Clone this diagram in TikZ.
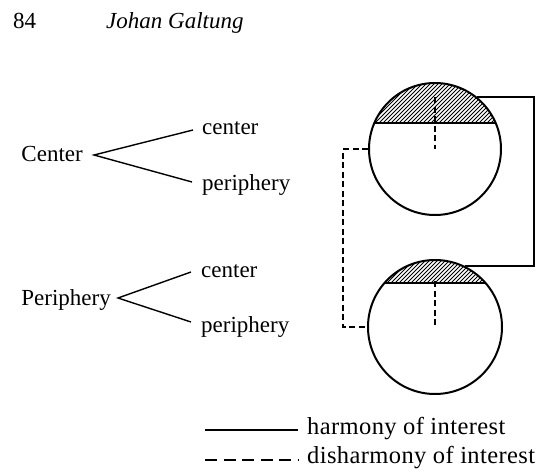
\documentclass[tikz,border=0pt]{standalone}
\usepackage{fontspec}
\setmainfont{Liberation Serif}
\begin{document}
\begin{tikzpicture}[x=1pt,y=-1pt,
  txt/.style={inner sep=0pt,font=\fontsize{23}{28}\selectfont},
  legtxt/.style={inner sep=0pt,font=\fontsize{24.5}{28}\selectfont\addfontfeature{LetterSpace=1.6}},
  ball/.style={draw,circle,line width=2pt,inner sep=0pt},
  solidln/.style={line width=2.4pt},
  dashln/.style={line width=2pt,dash pattern=on 6pt off 3.5pt},
  treeln/.style={line width=1.4pt},
  hatch/.style={line width=1pt}]
\useasboundingbox (0,0) rectangle (536,469);
% header
\node[txt,anchor=base west] (pg) at (13,28) {84};
\node[txt,anchor=base west] (au) at (106,28) {\itshape Johan Galtung};
% circles
\node[ball,minimum size=132pt] (up) at (435,149) {};
\node[ball,minimum size=134pt] (low) at (435,327) {};
% hatching upper
\begin{scope}
  \clip (435,149) circle (66);
  \clip (360,70) rectangle (510,123);
  \foreach \i in {-80,-76,...,240} \draw[hatch] (300+\i,130) -- ++(70,-70);
\end{scope}
\draw[line width=2pt] (374.3,123) -- (495.7,123);
% hatching lower
\begin{scope}
  \clip (435,327) circle (67);
  \clip (360,250) rectangle (510,283);
  \foreach \i in {-60,-56,...,200} \draw[hatch] (320+\i,290) -- ++(50,-50);
\end{scope}
\draw[line width=2pt] (384.5,283) -- (485.5,283);
% inner dashed
\coordinate (uc) at (435,97);
\coordinate (lc) at (435,281);
\draw[dashln] (uc) -- (up.center);
\draw[dashln] (lc) -- (low.center);
% solid connector
\coordinate (rt) at (534,0);
\draw[solidln] (up.51) -- (up.51 -| rt) -- (low.64 -| rt) -- (low.64);
% dashed connector
\coordinate (lt) at (343,0);
\draw[dashln] (up.west) -- (up.west -| lt) -- (low.west -| lt) -- (low.west);
% tree Center
\node[txt,anchor=base east] (C) at (83,161) {Center};
\node[txt,anchor=base west] (Cc) at (202,134) {center};
\node[txt,anchor=base west] (Cp) at (202,190) {periphery};
\coordinate (C0) at (94,155);
\coordinate (C1) at (193,130);
\coordinate (C2) at (192,182);
\draw[treeln] (C1) -- (C0) -- (C2);
% tree Periphery
\node[txt,anchor=base east] (P) at (111,305) {Periphery};
\node[txt,anchor=base west] (Pc) at (201,277) {center};
\node[txt,anchor=base west] (Pp) at (201,332) {periphery};
\coordinate (P0) at (118,298);
\coordinate (P1) at (191,272);
\coordinate (P2) at (191,322);
\draw[treeln] (P1) -- (P0) -- (P2);
% legend
\coordinate (l1a) at (205,430);
\coordinate (l1b) at (298,430);
\coordinate (l2a) at (205,460);
\coordinate (l2b) at (298,460);
\draw[solidln] (l1a) -- (l1b);
\draw[line width=2.2pt,dash pattern=on 12pt off 6.5pt] (l2a) -- (l2b);
\node[legtxt,anchor=base west] (h) at (307,434) {harmony of interest};
\node[legtxt,anchor=base west] (d) at (307,463.5) {disharmony of interest};
\end{tikzpicture}
\end{document}
